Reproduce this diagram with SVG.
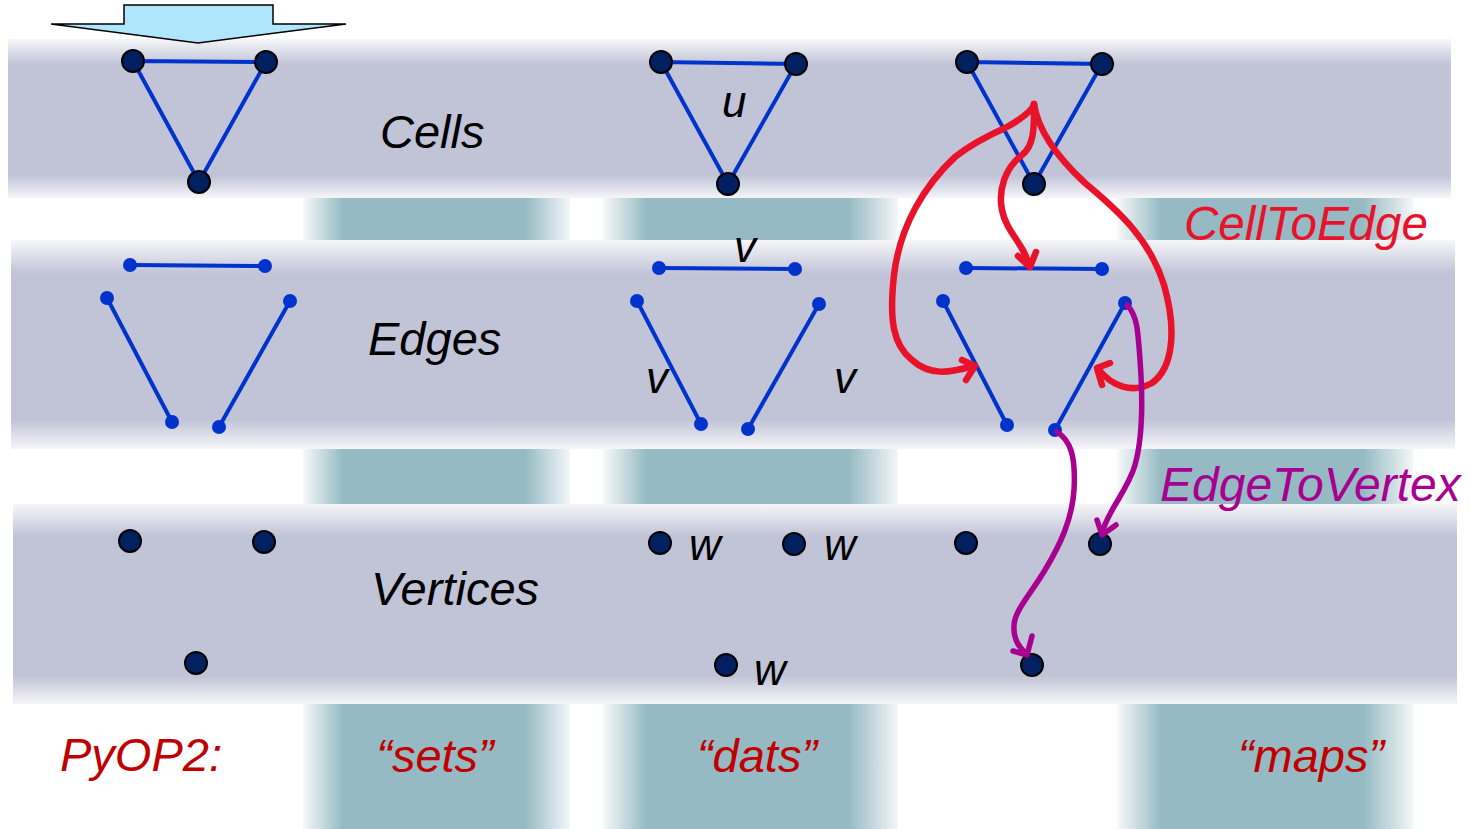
<svg xmlns="http://www.w3.org/2000/svg" width="1470" height="829" viewBox="0 0 1470 829">
  <defs>
    <!-- soft-edged horizontal band -->
    <linearGradient id="bandGrad" x1="0" y1="0" x2="0" y2="1">
      <stop offset="0" stop-color="#f6f6f9"/>
      <stop offset="0.16" stop-color="#c1c4d7"/>
      <stop offset="0.86" stop-color="#c1c4d7"/>
      <stop offset="1" stop-color="#f6f6f9"/>
    </linearGradient>
    <!-- soft-edged vertical teal column -->
    <linearGradient id="colGrad" x1="0" y1="0" x2="1" y2="0">
      <stop offset="0" stop-color="#f7f9fa"/>
      <stop offset="0.15" stop-color="#95bac3"/>
      <stop offset="0.83" stop-color="#95bac3"/>
      <stop offset="1" stop-color="#f3f6f8"/>
    </linearGradient>
  </defs>
  <style>
    .band { fill: url(#bandGrad); }
    .col { fill: url(#colGrad); }
    .mesh { stroke: #0033cc; stroke-width: 4; fill: none; }
    .vtx { fill: #002060; stroke: #000; stroke-width: 2; }
    .dot { fill: #0033cc; }
    .lbl { font-family: "Liberation Sans", Arial, sans-serif; font-style: italic; }
    .row { font-size: 47px; fill: #000; }
    .sym { font-size: 44px; fill: #000; }
    .py { font-size: 47px; fill: #c00000; }
    .c2e { stroke: #e8132a; stroke-width: 6.5; fill: none; stroke-linecap: round; stroke-linejoin: round; }
    .e2v { stroke: #a8008f; stroke-width: 5.5; fill: none; stroke-linecap: round; stroke-linejoin: round; }
  </style>

  <!-- background columns -->
  <g id="columns">
    <rect class="col" x="303" y="190" width="267" height="639"/>
    <rect class="col" x="603" y="190" width="295" height="639"/>
    <rect class="col" x="1117" y="190" width="296" height="639"/>
  </g>

  <!-- entity rows -->
  <g id="bands">
    <rect class="band" x="8" y="39" width="1443" height="159"/>
    <rect class="band" x="11" y="240" width="1444" height="209"/>
    <rect class="band" x="13" y="504" width="1444" height="200"/>
  </g>

  <!-- block arrow at top -->
  <g id="top-arrow">
    <polygon points="124,5 273,5 273,24 346,24 198,43 51,24 124,24" fill="#b0e6fc" stroke="#000" stroke-width="1.5" stroke-linejoin="miter"/>
  </g>

  <!-- cells -->
  <g id="cell-a">
    <polyline class="mesh" points="199,182 133,61 266,62 199,182"/>
    <circle class="vtx" cx="133" cy="61" r="11"/>
    <circle class="vtx" cx="266" cy="62" r="11"/>
    <circle class="vtx" cx="199" cy="182" r="11"/>
  </g>
  <g id="cell-b">
    <polyline class="mesh" points="728,184 661,62 796,64 728,184"/>
    <circle class="vtx" cx="661" cy="62" r="11"/>
    <circle class="vtx" cx="796" cy="64" r="11"/>
    <circle class="vtx" cx="728" cy="184" r="11"/>
    <text class="lbl sym" x="722" y="117">u</text>
  </g>
  <g id="cell-c">
    <polyline class="mesh" points="1034,184 967,62 1102,64 1034,184"/>
    <circle class="vtx" cx="967" cy="62" r="11"/>
    <circle class="vtx" cx="1102" cy="64" r="11"/>
    <circle class="vtx" cx="1034" cy="184" r="11"/>
  </g>

  <!-- edges -->
  <g id="edges-a">
    <line class="mesh" x1="130" y1="265" x2="265" y2="266"/>
    <line class="mesh" x1="107" y1="298" x2="172" y2="422"/>
    <line class="mesh" x1="290" y1="301" x2="219" y2="427"/>
    <circle class="dot" cx="130" cy="265" r="7"/>
    <circle class="dot" cx="265" cy="266" r="7"/>
    <circle class="dot" cx="107" cy="298" r="7"/>
    <circle class="dot" cx="172" cy="422" r="7"/>
    <circle class="dot" cx="290" cy="301" r="7"/>
    <circle class="dot" cx="219" cy="427" r="7"/>
  </g>
  <g id="edges-b">
    <line class="mesh" x1="659" y1="268" x2="795" y2="269"/>
    <line class="mesh" x1="637" y1="301" x2="701" y2="424"/>
    <line class="mesh" x1="819" y1="304" x2="748" y2="429"/>
    <circle class="dot" cx="659" cy="268" r="7"/>
    <circle class="dot" cx="795" cy="269" r="7"/>
    <circle class="dot" cx="637" cy="301" r="7"/>
    <circle class="dot" cx="701" cy="424" r="7"/>
    <circle class="dot" cx="819" cy="304" r="7"/>
    <circle class="dot" cx="748" cy="429" r="7"/>
    <text class="lbl sym" x="734" y="262">v</text>
    <text class="lbl sym" x="646" y="393">v</text>
    <text class="lbl sym" x="834" y="393">v</text>
  </g>
  <g id="edges-c">
    <line class="mesh" x1="966" y1="268" x2="1102" y2="269"/>
    <line class="mesh" x1="943" y1="301" x2="1007" y2="425"/>
    <line class="mesh" x1="1125" y1="303" x2="1055" y2="430"/>
    <circle class="dot" cx="966" cy="268" r="7"/>
    <circle class="dot" cx="1102" cy="269" r="7"/>
    <circle class="dot" cx="943" cy="301" r="7"/>
    <circle class="dot" cx="1007" cy="425" r="7"/>
    <circle class="dot" cx="1125" cy="303" r="7"/>
    <circle class="dot" cx="1055" cy="430" r="7"/>
  </g>

  <!-- vertices -->
  <g id="vertices-a">
    <circle class="vtx" cx="130" cy="541" r="11"/>
    <circle class="vtx" cx="264" cy="542" r="11"/>
    <circle class="vtx" cx="196" cy="663" r="11"/>
  </g>
  <g id="vertices-b">
    <circle class="vtx" cx="660" cy="543" r="11"/>
    <circle class="vtx" cx="794" cy="544" r="11"/>
    <circle class="vtx" cx="726" cy="665" r="11"/>
    <text class="lbl sym" x="689" y="560">w</text>
    <text class="lbl sym" x="824" y="560">w</text>
    <text class="lbl sym" x="754" y="685">w</text>
  </g>
  <g id="vertices-c">
    <circle class="vtx" cx="966" cy="543" r="11"/>
    <circle class="vtx" cx="1100" cy="544" r="11"/>
    <circle class="vtx" cx="1032" cy="665" r="11"/>
  </g>

  <!-- row names and PyOP2 terms -->
  <g id="labels">
    <text class="lbl row" x="380" y="148">Cells</text>
    <text class="lbl row" x="368" y="355">Edges</text>
    <text class="lbl row" x="371" y="605">Vertices</text>
    <text class="lbl" x="1184" y="240" font-size="47.5" fill="#e8132a">CellToEdge</text>
    <text class="lbl" x="1160" y="501" font-size="48" fill="#a8008f">EdgeToVertex</text>
    <text class="lbl py" x="60" y="771">PyOP2:</text>
    <text class="lbl py" x="435" y="772" text-anchor="middle">“sets”</text>
    <text class="lbl py" x="757" y="772" text-anchor="middle">“dats”</text>
    <text class="lbl py" x="1311" y="772" text-anchor="middle">“maps”</text>
  </g>

  <!-- map connectors -->
  <g id="connectors">
    <!-- cell to edge -->
    <path class="c2e" d="M1034,104 C1034,125 1035,145 1022,155 C1005,168 998,190 1002,210 C1006,232 1025,245 1029,266"/>
    <polyline class="c2e" points="1018,256 1030,267 1036,252"/>
    <path class="c2e" d="M1034,104 C1033,110 1020,120 1005,128 C985,137 970,145 955,157 C925,185 900,225 894,275 C889,320 893,345 912,360 C930,376 948,373 974,366"/>
    <polyline class="c2e" points="962,360 975,366 966,380"/>
    <path class="c2e" d="M1034,104 C1038,130 1058,158 1085,183 C1120,212 1150,240 1164,285 C1177,330 1173,368 1152,383 C1132,394 1112,386 1099,370"/>
    <polyline class="c2e" points="1110,363 1097,368 1102,385"/>
    <!-- edge to vertex -->
    <path class="e2v" d="M1127,305 C1137,315 1138,330 1140,360 C1143,400 1142,440 1135,465 C1128,490 1108,510 1102,533"/>
    <polyline class="e2v" points="1097,520 1102,535 1116,525"/>
    <path class="e2v" d="M1057,432 C1070,440 1076,455 1074,490 C1072,520 1060,545 1045,570 C1030,595 1015,610 1014,625 C1013,640 1020,648 1026,654"/>
    <polyline class="e2v" points="1013,651 1027,655 1032,636"/>
  </g>
</svg>
